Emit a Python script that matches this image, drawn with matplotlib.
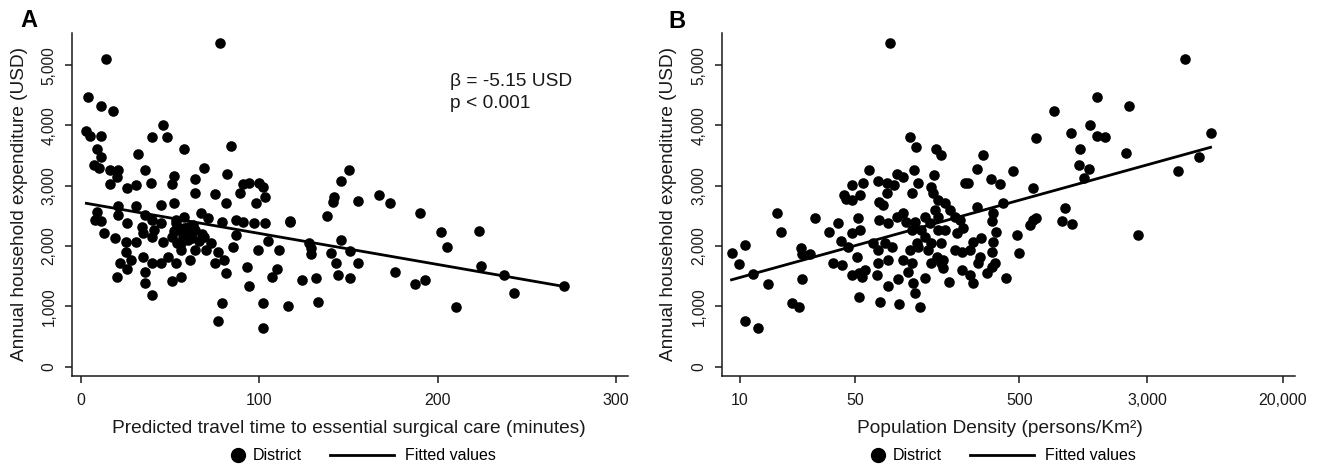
import matplotlib.pyplot as plt
import numpy as np
from matplotlib.lines import Line2D

plt.rcParams['font.family'] = ['Liberation Sans', 'DejaVu Sans']

# Panel A: predicted travel time (minutes) vs annual household expenditure (USD)
travel_time = [78, 14, 4, 11, 18, 46, 40, 48, 3, 5, 11, 84, 58, 9, 11, 32, 7, 10, 16, 21,
               36, 69, 82, 20, 52, 64, 39, 16, 51, 26, 31, 91, 100, 89, 94, 102, 103, 98, 64, 75,
               81, 45, 52, 21, 31, 9, 8, 11, 21, 26, 36, 40, 34, 41, 45, 53, 58, 54, 60, 64,
               67, 71, 79, 87, 91, 97, 103, 87, 105, 99, 85, 13, 19, 25, 31, 35, 40, 46, 51, 56,
               62, 73, 77, 80, 81, 25, 28, 35, 40, 45, 49, 53, 56, 61, 64, 70, 75, 22, 26, 20,
               36, 36, 40, 51, 56, 93, 94, 107, 79, 77, 102, 102, 53, 58, 61, 63, 68, 57, 60, 66,
               69, 52, 54, 150, 146, 142, 141, 155, 167, 173, 190, 138, 117, 117, 202, 223, 205, 128, 129, 129,
               146, 140, 151, 111, 143, 155, 144, 151, 132, 124, 110, 176, 187, 193, 224, 237, 243, 271, 210, 133,
               116]
expenditure_a = [5363, 5098, 4478, 4323, 4246, 4013, 3804, 3804, 3914, 3826, 3826, 3660, 3605, 3605, 3483, 3527, 3345, 3290, 3262, 3262,
                 3262, 3290, 3196, 3151, 3168, 3113, 3051, 3030, 3030, 2958, 3013, 3030, 3041, 2876, 3041, 2975, 2819, 2720, 2887, 2864,
                 2710, 2682, 2720, 2665, 2665, 2571, 2433, 2420, 2516, 2378, 2516, 2433, 2322, 2267, 2378, 2433, 2488, 2267, 2322, 2267,
                 2544, 2460, 2405, 2433, 2405, 2378, 2378, 2184, 2090, 1935, 1990, 2222, 2129, 2073, 2073, 2212, 2156, 2073, 2156, 2046,
                 2129, 2046, 1907, 1769, 1549, 1907, 1769, 1824, 1714, 1714, 1824, 1714, 1935, 1769, 1935, 1935, 1714, 1714, 1615, 1482,
                 1575, 1393, 1189, 1426, 1493, 1648, 1338, 1493, 1051, 763, 1062, 647, 2380, 2300, 2250, 2350, 2200, 2150, 2100, 2080,
                 2150, 2250, 2050, 3262, 3085, 2819, 2736, 2753, 2847, 2710, 2544, 2504, 2421, 2395, 2239, 2255, 1980, 2046, 1963, 1869,
                 2101, 1891, 1924, 1935, 1714, 1714, 1521, 1466, 1466, 1438, 1615, 1565, 1371, 1438, 1670, 1521, 1217, 1343, 995, 1078,
                 1007]

# Panel B: population density (persons/km2) vs annual household expenditure (USD)
density = [82, 108, 117, 155, 168, 61, 90, 98, 115, 152, 69, 78, 86, 48, 56, 121, 78, 111, 43, 48,
           54, 44, 70, 74, 146, 150, 160, 16.9, 28.8, 17.9, 39.6, 52, 54, 34.9, 41.1, 47.8, 70, 80, 90, 98,
           103, 116, 133, 143, 153, 160, 8.9, 10.8, 9.9, 12.1, 14.9, 23.5, 23.9, 26.7, 23.9, 20.6, 22.8, 10.8, 12.9, 36.9,
           41.5, 45.5, 51.2, 48, 55, 57.5, 53, 64.6, 69, 76, 83.6, 69, 80, 67.8, 80, 91.6, 98, 108, 111, 121,
           105, 113, 116, 133, 133, 146, 157, 168, 146, 53, 71, 93, 124, 127, 140, 119, 168, 111, 161,
           5093, 1486, 2328, 811, 1343, 1023, 1472, 1652, 635, 7261, 1167, 2223, 6194, 4581, 1146, 1330, 1234, 455, 301, 277,
           233, 245, 336, 381, 607, 395, 277, 946, 344, 339, 607, 579, 631, 903, 1038, 2642, 481, 499, 363, 347,
           339, 355, 339, 319, 414, 262, 187, 250, 281, 288, 223, 172, 203, 223, 250, 294, 262, 228, 208, 189,
           203, 217, 176, 172, 176]
expenditure_b = [5363, 3804, 3649, 3605, 3511, 3262, 3196, 3151, 3262, 3179, 3085, 3041, 3013, 3013, 3041, 3051, 2876, 2876, 2847, 2765,
                 2847, 2780, 2736, 2682, 2985, 2876, 2765, 2544, 2461, 2234, 2388, 2461, 2267, 2239, 2090, 2212, 2433, 2378, 2488, 2544,
                 2405, 2405, 2488, 2378, 2599, 2267, 1880, 2018, 1703, 1537, 1366, 1963, 1869, 1869, 1449, 1062, 995, 758, 637, 1725,
                 1686, 1990, 1824, 1521, 1493, 1604, 1560, 2046, 1935, 2046, 1990, 1714, 1769, 1521, 1338, 1449, 1769, 1935, 1714, 1990,
                 1575, 1383, 1217, 1466, 2156, 2046, 1824, 1714, 1714, 1161, 1078, 1040, 995, 2267, 1935, 2046, 2046, 2267, 2488,
                 5098, 4467, 4323, 4240, 4008, 3870, 3826, 3814, 3798, 3881, 3605, 3549, 3472, 3245, 3345, 3273, 3124, 3245, 3511, 3273,
                 3041, 3050, 3108, 3030, 2958, 2720, 2653, 2637, 2544, 2421, 2433, 2350, 2461, 2421, 2366, 2184, 2184, 1891, 2239, 2073,
                 1907, 1714, 1658, 1549, 1466, 1393, 1410, 1521, 1714, 1824, 1604, 1632, 1935, 1907, 1935, 2129, 2073, 2295, 2212, 2599,
                 2488, 2433, 2267, 1769, 2710]

# fitted regressions
beta_a, intercept_a = -5.15, 2725      # USD per minute
beta_b, intercept_b = 754.5, 725       # USD per log10 unit of density

y_ticks = [0, 1000, 2000, 3000, 4000, 5000]
y_ticklabels = ['0', '1,000', '2,000', '3,000', '4,000', '5,000']
a_ticks = [0, 100, 200, 300]
b_ticks = [10, 50, 500, 3000, 20000]
b_ticklabels = ['10', '50', '500', '3,000', '20,000']

ink = '#1a1a1a'
fig = plt.figure(figsize=(13.31, 4.70), dpi=100)
axA = fig.add_axes([0.0539, 0.2, 0.418, 0.7298])
axB = fig.add_axes([0.5424, 0.2, 0.4305, 0.7298])


def style(ax):
    for s in ['top', 'right']:
        ax.spines[s].set_visible(False)
    for s in ['left', 'bottom']:
        ax.spines[s].set_color(ink)
        ax.spines[s].set_linewidth(1.1)
    ax.set_ylim(-154, 5534)
    ax.set_yticks(y_ticks)
    ax.set_yticklabels(y_ticklabels, fontsize=11.2, color=ink)
    ax.tick_params(axis='both', length=5, width=1.1, pad=7, colors=ink)
    ax.tick_params(axis='y', pad=6)
    ax.tick_params(axis='x', labelsize=11.5)
    ax.minorticks_off()
    for lab in ax.get_yticklabels():
        lab.set_rotation(90)
        lab.set_va('center')
    ax.set_ylabel('Annual household expenditure (USD)', fontsize=13.7, color=ink)


# Panel A
axA.scatter(travel_time, expenditure_a, s=58, color='black', linewidths=0, zorder=2)
xa = np.array([min(travel_time), max(travel_time)])
axA.plot(xa, intercept_a + beta_a * xa, color='black', lw=2.0, zorder=3)
axA.set_xlim(-5.2, 306.7)
axA.set_xticks(a_ticks)
style(axA)
axA.set_xlabel('Predicted travel time to essential surgical care (minutes)', fontsize=13.8, color=ink)
axA.xaxis.set_label_coords(0.498, -0.128)
axA.yaxis.set_label_coords(-0.0786, 0.5)
axA.text(0.679, 0.858, 'β = -5.15 USD', transform=axA.transAxes, fontsize=13.8, va='center', color=ink)
axA.text(0.679, 0.793, 'p < 0.001', transform=axA.transAxes, fontsize=13.8, va='center', color=ink)

# Panel B
axB.scatter(density, expenditure_b, s=58, color='black', linewidths=0, zorder=2)
xb = np.geomspace(min(density), max(density), 50)
axB.plot(xb, intercept_b + beta_b * np.log10(xb), color='black', lw=2.0, zorder=3)
axB.set_xscale('log')
axB.set_xlim(7.78, 23660)
axB.set_xticks(b_ticks)
axB.set_xticklabels(b_ticklabels)
style(axB)
axB.set_xlabel('Population Density (persons/Km²)', fontsize=13.8, color=ink)
axB.xaxis.set_label_coords(0.485, -0.128)
axB.yaxis.set_label_coords(-0.0785, 0.5)

# legends below each panel
for ax, x0 in [(axA, 0.173), (axB, 0.654)]:
    h1 = Line2D([], [], marker='o', ls='none', color='black', markersize=10)
    h2 = Line2D([], [], color='black', lw=2.0)
    fig.legend([h1], ['District'], loc='center left', bbox_to_anchor=(x0, 0.03),
               frameon=False, fontsize=11.5, handlelength=1.0, handletextpad=0.4,
               borderpad=0, borderaxespad=0)
    fig.legend([h2], ['Fitted values'], loc='center left', bbox_to_anchor=(x0 + 0.075, 0.03),
               frameon=False, fontsize=11.5, handlelength=4.0, handletextpad=0.7,
               borderpad=0, borderaxespad=0)

fig.text(28.5 / 1331, 1 - 20.5 / 470, 'A', fontsize=17, fontweight='bold', ha='center', va='center')
fig.text(677 / 1331, 1 - 21 / 470, 'B', fontsize=17, fontweight='bold', ha='center', va='center')

fig.savefig('out.png', dpi=100)
